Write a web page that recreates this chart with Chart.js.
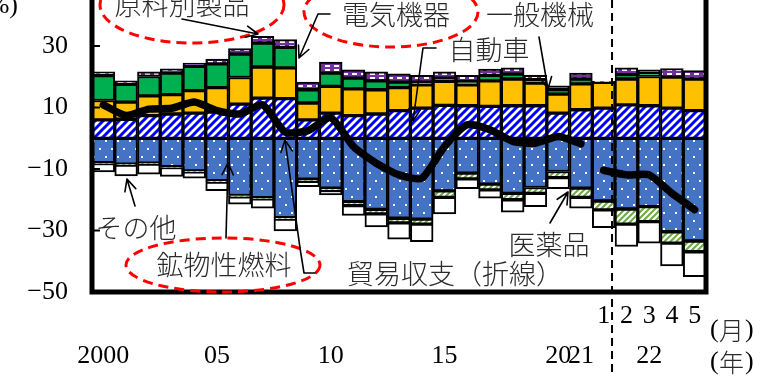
<!DOCTYPE html>
<html>
<head>
<meta charset="utf-8">
<script src="https://cdn.jsdelivr.net/npm/chart.js@4/dist/chart.umd.min.js"></script>
<style>
  html, body { margin: 0; padding: 0; background: #fff; }
  #wrap { width: 765px; height: 377px; position: relative; overflow: hidden; }
</style>
</head>
<body>
<div id="wrap"><canvas id="c" width="765" height="377"></canvas></div>
<script>
// Annual figures 2000-2021, then monthly figures Jan-May 2022
const years = ['2000','2001','2002','2003','2004','2005','2006','2007','2008','2009','2010',
  '2011','2012','2013','2014','2015','2016','2017','2018','2019','2020','2021'];
const months2022 = ['1','2','3','4','5'];
const categories = years.concat(months2022.map(m => '2022/' + m));

// Bottom-row tick text (years), top-row tick text (months)
const yearTicks = ['2000','','','','','05','','','','','10','','','','','15','','','','','20','21','','','22','',''];
const monthTicks = years.map(() => '').concat(months2022);
const yTicks = [-50, -30, -10, 10, 30];

// Surplus items (stacked upward)
const autos      = [6.0, 6.2, 7.4, 7.9, 8.2, 8.5, 11.1, 13.1, 12.9, 6.0, 8.2, 7.4, 7.9, 9.0, 9.8, 10.7, 10.6, 10.4, 10.6, 10.6, 8.2, 9.3, 9.8, 10.9, 10.6, 9.8, 9.0];
const machinery  = [6.3, 5.6, 6.4, 6.3, 7.3, 8.0, 8.7, 10.1, 10.0, 5.5, 8.7, 8.7, 7.9, 7.5, 7.6, 7.8, 6.8, 8.3, 8.7, 7.4, 6.2, 8.4, 8.4, 8.4, 9.5, 10.1, 10.3];
const electrical = [8.1, 5.8, 6.3, 7.0, 7.9, 7.7, 7.6, 7.8, 6.7, 4.3, 4.3, 3.5, 2.9, 1.8, 0.9, 1.1, 1.1, 1.8, 1.6, 1.1, 1.4, 1.6, 0.0, 1.4, 1.2, 0.0, 0.0];
const materials  = [1.2, 1.1, 1.5, 1.4, 1.1, 1.6, 1.8, 2.2, 2.5, 2.5, 3.6, 2.7, 2.9, 2.7, 2.2, 2.0, 2.0, 2.0, 2.0, 1.4, 1.3, 1.9, 0.3, 2.2, 1.0, 2.8, 2.7];
// Deficit items (stacked downward)
const fuels      = [-7.9, -8.4, -8.1, -9.2, -10.6, -13.8, -18.6, -19.3, -25.8, -13.3, -16.2, -20.6, -23.1, -26.0, -26.3, -17.1, -11.3, -14.9, -17.9, -16.0, -10.8, -16.2, -20.4, -23.0, -22.2, -30.4, -33.4];
const medicines  = [-0.3, -0.3, -0.3, -0.3, -0.3, -0.4, -0.4, -0.4, -0.5, -0.7, -0.8, -1.3, -1.5, -1.5, -1.6, -2.1, -1.9, -1.9, -2.1, -1.9, -2.0, -3.0, -2.9, -4.9, -4.9, -3.7, -3.5];
const others     = [-2.7, -3.5, -3.3, -2.9, -2.1, -2.8, -2.4, -3.0, -3.8, -1.7, -1.4, -3.2, -4.2, -5.3, -5.7, -5.4, -3.2, -2.7, -4.0, -4.3, -3.6, -3.5, -5.8, -7.3, -7.0, -7.4, -8.1];
// Trade balance line
const balanceAnnual  = [10.9, 7.4, 9.5, 9.8, 11.8, 9.0, 7.9, 10.9, 2.0, 2.5, 6.7, -2.7, -8.1, -11.9, -13.0, -2.7, 4.4, 2.8, -1.0, -1.6, 0.6, -1.8];
const balanceMonthly = [-10.4, -11.9, -11.9, -17.9, -23.2];

const NUM_FONT = '"Liberation Serif", "DejaVu Serif", serif';
const JP_FONT = '"Noto Sans CJK JP", "Noto Sans", sans-serif';

function tile(w, h, paint) {
  const c = document.createElement('canvas');
  c.width = w; c.height = h;
  const g = c.getContext('2d');
  paint(g, w, h);
  return g.createPattern(c, 'repeat');
}
function stripes(color, size, width) {
  return tile(size, size, (g, s) => {
    g.fillStyle = '#fff'; g.fillRect(0, 0, s, s);
    g.strokeStyle = color; g.lineWidth = width; g.lineCap = 'square';
    g.beginPath();
    g.moveTo(0, s); g.lineTo(s, 0);
    g.moveTo(-s / 2, s / 2); g.lineTo(s / 2, -s / 2);
    g.moveTo(s / 2, s * 1.5); g.lineTo(s * 1.5, s / 2);
    g.stroke();
  });
}
const hatchBlue = stripes('#0000FF', 8, 3);
const hatchGreen = stripes('#70AD47', 6, 2.2);
const dotted = tile(12, 16, (g) => {
  g.fillStyle = '#4472C4'; g.fillRect(0, 0, 12, 16);
  g.fillStyle = '#fff';
  g.fillRect(3, 4, 2, 2); g.fillRect(9, 12, 2, 2);
});
const dashedPurple = tile(9, 4, (g) => {
  g.fillStyle = '#7030A0'; g.fillRect(0, 0, 9, 4);
  g.fillStyle = '#fff'; g.fillRect(1, 1, 5, 2);
});

function barSet(label, data, fill) {
  return {
    type: 'bar', label, data, backgroundColor: fill,
    borderColor: '#000', borderWidth: 2, borderSkipped: false,
    barPercentage: 1, categoryPercentage: 1, stack: 's', order: 1
  };
}
const pad = (n) => Array(n).fill(null);

const overlay = {
  id: 'overlay',
  afterDraw(chart) {
    const { ctx, chartArea: a, scales: { x, y } } = chart;
    ctx.save();

    // dashed separator between January and the following months of 2022
    const xs = (x.getPixelForValue(22) + x.getPixelForValue(23)) / 2 - 3;
    ctx.strokeStyle = '#000'; ctx.lineWidth = 2; ctx.setLineDash([8, 5]);
    ctx.beginPath(); ctx.moveTo(xs, 0); ctx.lineTo(xs, 377); ctx.stroke();
    ctx.setLineDash([]);

    // frame: left axis, bottom axis, right edge
    ctx.lineWidth = 5; ctx.strokeStyle = '#000'; ctx.lineCap = 'butt';
    ctx.beginPath();
    ctx.moveTo(a.left, 0); ctx.lineTo(a.left, a.bottom + 2.5);
    ctx.moveTo(a.left - 2.5, a.bottom); ctx.lineTo(a.right + 2.5, a.bottom);
    ctx.moveTo(a.right, a.bottom + 2.5); ctx.lineTo(a.right, 0);
    ctx.stroke();
    // inward tick marks
    ctx.lineWidth = 2;
    ctx.beginPath();
    yTicks.forEach(v => {
      const py = y.getPixelForValue(v);
      ctx.moveTo(a.left, py); ctx.lineTo(a.left + 8, py);
    });
    ctx.stroke();

    // red dashed ellipses around callout names
    ctx.strokeStyle = '#FF0000'; ctx.lineWidth = 3; ctx.setLineDash([10, 6]);
    [[192, 5, 92, 38], [391, 12, 87, 35], [223, 265, 97, 27]].forEach(([cx, cy, rx, ry]) => {
      ctx.beginPath(); ctx.ellipse(cx, cy, rx, ry, 0, 0, Math.PI * 2); ctx.stroke();
    });
    ctx.setLineDash([]);

    // callout pointers
    ctx.strokeStyle = '#000'; ctx.lineWidth = 1.6; ctx.lineCap = 'round'; ctx.lineJoin = 'round';
    function pointer(pts) {
      ctx.beginPath();
      ctx.moveTo(pts[0][0], pts[0][1]);
      for (let i = 1; i < pts.length; i++) ctx.lineTo(pts[i][0], pts[i][1]);
      const [tx, ty] = pts[pts.length - 1], [fx, fy] = pts[pts.length - 2];
      const ang = Math.atan2(fy - ty, fx - tx), L = 13, spread = 0.45;
      ctx.moveTo(tx + L * Math.cos(ang - spread), ty + L * Math.sin(ang - spread));
      ctx.lineTo(tx, ty);
      ctx.lineTo(tx + L * Math.cos(ang + spread), ty + L * Math.sin(ang + spread));
      ctx.stroke();
    }
    pointer([[182, 19], [258, 34]]);
    pointer([[330, 14], [318, 14], [299, 58]]);
    pointer([[539, 37], [548, 89]]);
    pointer([[436, 48], [423, 48], [413, 121]]);
    pointer([[135, 206], [127, 179]]);
    pointer([[226, 238], [228, 163]]);
    pointer([[315, 273], [304, 273], [300, 248], [285, 140]]);
    pointer([[550, 223], [568, 192]]);

    // callout names
    ctx.fillStyle = '#2a2a2a'; ctx.textAlign = 'center'; ctx.textBaseline = 'middle';
    ctx.font = '300 27px ' + JP_FONT;
    ctx.fillText('原料別製品', 182, 5);
    ctx.fillText('電気機器', 396, 15);
    ctx.fillText('一般機械', 540, 15);
    ctx.fillText('自動車', 489, 50);
    ctx.fillText('その他', 136, 228);
    ctx.fillText('鉱物性燃料', 224, 265);
    ctx.fillText('医薬品', 549, 245);
    ctx.fillText('貿易収支（折線）', 455, 274);

    // unit captions
    ctx.fillStyle = '#000';
    ctx.font = '26px ' + NUM_FONT;
    ctx.textAlign = 'right'; ctx.textBaseline = 'alphabetic';
    ctx.fillText('(%)', 18, 13);
    ctx.textAlign = 'left'; ctx.textBaseline = 'middle';
    ctx.fillText('(', 710, 330); ctx.fillText('(', 710, 362);
    ctx.fillStyle = '#2a2a2a';
    ctx.font = '300 25px ' + JP_FONT;
    ctx.fillText('月', 719, 330); ctx.fillText('年', 719, 362);
    ctx.fillStyle = '#000';
    ctx.font = '26px ' + NUM_FONT;
    ctx.fillText(')', 745, 330); ctx.fillText(')', 745, 362);
    ctx.restore();
  }
};

new Chart(document.getElementById('c'), {
  data: {
    labels: categories,
    datasets: [
      {
        type: 'line', label: '貿易収支', data: balanceAnnual.concat(pad(months2022.length)),
        borderColor: '#000', borderWidth: 7.5, pointRadius: 0, tension: 0.2,
        borderCapStyle: 'round', borderJoinStyle: 'round', spanGaps: false, order: 0, stack: 'line'
      },
      {
        type: 'line', label: '貿易収支(月次)', data: pad(years.length).concat(balanceMonthly),
        borderColor: '#000', borderWidth: 7.5, pointRadius: 0, tension: 0.2,
        borderCapStyle: 'round', borderJoinStyle: 'round', spanGaps: false, order: 0, stack: 'line2'
      },
      barSet('自動車', autos, hatchBlue),
      barSet('一般機械', machinery, '#FFC000'),
      barSet('電気機器', electrical, '#00B050'),
      barSet('原料別製品', materials, dashedPurple),
      barSet('鉱物性燃料', fuels, dotted),
      barSet('医薬品', medicines, hatchGreen),
      barSet('その他', others, '#FFFFFF')
    ]
  },
  options: {
    responsive: false, animation: false, devicePixelRatio: 1,
    layout: { padding: { left: 0, right: 59, top: 0, bottom: 0 } },
    plugins: { legend: { display: false }, tooltip: { enabled: false } },
    scales: {
      x: {
        stacked: true, offset: true,
        grid: { display: false, drawTicks: false }, border: { display: false },
        ticks: {
          autoSkip: false, maxRotation: 0, minRotation: 0, padding: 4, color: '#000',
          font: { family: NUM_FONT, size: 26, lineHeight: '40px' },
          callback: (v, i) => [monthTicks[i], yearTicks[i]]
        },
        afterFit: s => { s.height = 85; s.paddingLeft = 0; s.paddingRight = 0; }
      },
      y: {
        stacked: true, min: -50, max: 45,
        grid: { display: false, drawTicks: false }, border: { display: false },
        afterBuildTicks: s => { s.ticks = yTicks.map(v => ({ value: v })); },
        ticks: {
          padding: 24, color: '#000', font: { family: NUM_FONT, size: 26 },
          callback: v => (v < 0 ? '\u2212' + Math.abs(v) : String(v))
        },
        afterFit: s => { s.width = 92; s.paddingTop = 0; s.paddingBottom = 0; }
      }
    }
  },
  plugins: [overlay]
});
</script>
</body>
</html>
